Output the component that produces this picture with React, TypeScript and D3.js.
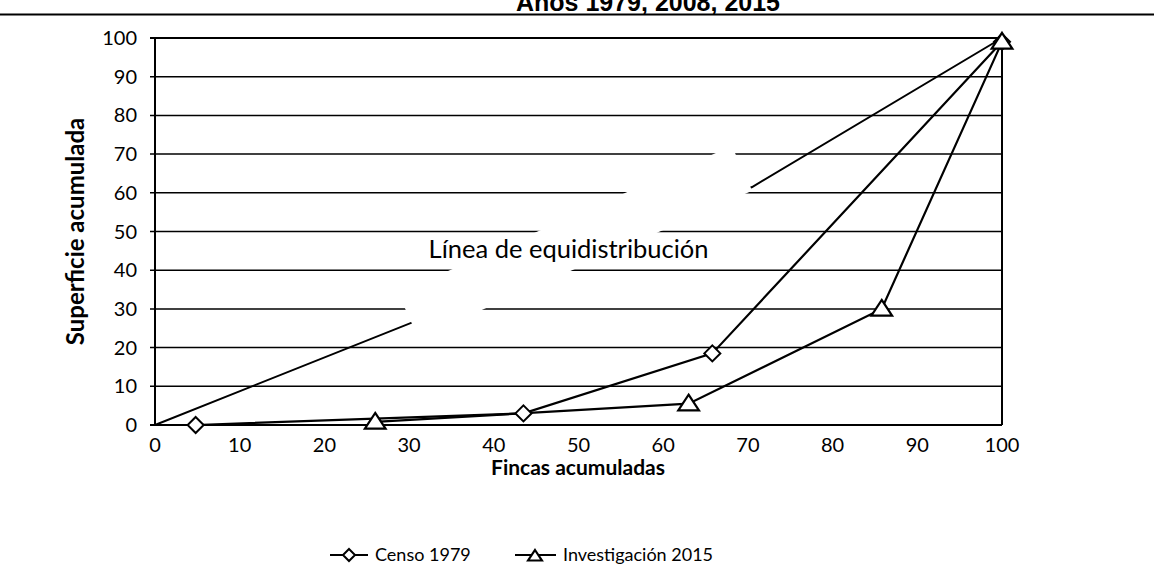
import React from "react";
import * as d3 from "d3";

const W = 1154;
const H = 582;

const xTicks = [0, 10, 20, 30, 40, 50, 60, 70, 80, 90, 100];
const yTicks = [0, 10, 20, 30, 40, 50, 60, 70, 80, 90, 100];

const censoX = [4.8, 43.5, 65.8, 100];
const censoY = [0, 3, 18.5, 99];
const invX = [26, 63, 85.8, 100];
const invY = [0.8, 5.5, 30, 99];

// equidistribution line (hand drawn in the original) and its white label box
const equiX = [0, 70.5, 100];
const equiY = [0, 61.5, 100];
const boxX = [28.7, 31.1, 70.5, 68.1];
const boxY = [34.1, 22.5, 60.5, 72.1];

const titleText = "Años 1979, 2008, 2015";
const yTitle = "Superficie acumulada";
const xTitle = "Fincas acumuladas";
const equiLabel = "Línea de equidistribución";
const seriesNames = ["Censo 1979", "Investigación 2015"];

const FONT = "Lato, 'Open Sans', sans-serif";

function Diamond({ cx, cy, r }: { cx: number; cy: number; r: number }) {
  return (
    <path
      d={`M${cx},${cy - r}L${cx + r},${cy}L${cx},${cy + r}L${cx - r},${cy}Z`}
      fill="#fff"
      stroke="#000"
      strokeWidth={2}
    />
  );
}

function Triangle({ cx, cy, r }: { cx: number; cy: number; r: number }) {
  return (
    <path
      d={`M${cx},${cy - r}L${cx + r * 1.15},${cy + r * 0.75}L${cx - r * 1.15},${cy + r * 0.75}Z`}
      fill="#fff"
      stroke="#000"
      strokeWidth={2.2}
    />
  );
}

export default function App() {
  const left = 155;
  const right = 1002;
  const top = 38;
  const bottom = 425;
  const x = d3.scaleLinear().domain([0, 100]).range([left, right]);
  const y = d3.scaleLinear().domain([0, 100]).range([bottom, top]);

  const line = d3
    .line<[number, number]>()
    .x((d) => x(d[0]))
    .y((d) => y(d[1]));

  const censo = censoX.map((v, i) => [v, censoY[i]] as [number, number]);
  const inv = invX.map((v, i) => [v, invY[i]] as [number, number]);
  const equi = equiX.map((v, i) => [v, equiY[i]] as [number, number]);
  const box = boxX.map((v, i) => [v, boxY[i]] as [number, number]);

  return (
    <svg
      width={W}
      height={H}
      style={{ position: "absolute", left: 0, top: 0, background: "#fff" }}
    >
      <rect x={0} y={0} width={W} height={H} fill="#fff" />
      {/* title, cut at top */}
      <text
        x={648}
        y={11}
        textAnchor="middle"
        fontFamily="Arial, 'Liberation Sans', sans-serif"
        fontWeight="bold"
        fontSize={25}
        fill="#000"
      >
        {titleText}
      </text>
      <line x1={0} x2={W} y1={14.5} y2={14.5} stroke="#000" strokeWidth={2.2} />

      {/* gridlines */}
      {yTicks.map((t) => (
        <line
          key={"g" + t}
          x1={left - 5}
          x2={right}
          y1={y(t)}
          y2={y(t)}
          stroke="#000"
          strokeWidth={t === 0 || t === 100 ? 2 : 1.5}
        />
      ))}
      <line x1={left} x2={left} y1={top} y2={bottom} stroke="#000" strokeWidth={2} />
      <line x1={right} x2={right} y1={top} y2={bottom} stroke="#000" strokeWidth={2} />

      {/* equidistribution line */}
      <path d={line(equi) || ""} fill="none" stroke="#000" strokeWidth={2} />
      <path d={(line(box) || "") + "Z"} fill="#fff" stroke="none" />
      <text
        x={x(32.3)}
        y={y(43.2)}
        fontFamily={FONT}
        fontSize={25.5}
        fill="#000"
      >
        {equiLabel}
      </text>

      {/* series */}
      <path d={line(inv) || ""} fill="none" stroke="#000" strokeWidth={2.2} />
      <path d={line(censo) || ""} fill="none" stroke="#000" strokeWidth={2.2} />
      {censo.map((d, i) => (
        <Diamond key={"c" + i} cx={x(d[0])} cy={y(d[1])} r={8} />
      ))}
      {inv.map((d, i) => (
        <Triangle key={"t" + i} cx={x(d[0])} cy={y(d[1])} r={9} />
      ))}

      {/* y tick labels */}
      {yTicks.map((t) => (
        <text
          key={"yl" + t}
          x={left - 18}
          y={y(t)}
          dy="0.35em"
          textAnchor="end"
          fontFamily={FONT}
          fontSize={20}
          fill="#000"
        >
          {t}
        </text>
      ))}
      {/* x tick labels */}
      {xTicks.map((t) => (
        <text
          key={"xl" + t}
          x={x(t)}
          y={445}
          dy="0.35em"
          textAnchor="middle"
          fontFamily={FONT}
          fontSize={20}
          fill="#000"
        >
          {t}
        </text>
      ))}

      <text
        x={578}
        y={468}
        dy="0.35em"
        textAnchor="middle"
        fontFamily={FONT}
        fontWeight="bold"
        fontSize={21}
        fill="#000"
      >
        {xTitle}
      </text>
      <text
        transform={`translate(76,${(top + bottom) / 2}) rotate(-90)`}
        textAnchor="middle"
        dy="0.35em"
        fontFamily={FONT}
        fontWeight="bold"
        fontSize={24}
        fill="#000"
      >
        {yTitle}
      </text>

      {/* legend */}
      <g>
        <line x1={330} x2={368} y1={555} y2={555} stroke="#000" strokeWidth={2} />
        <Diamond cx={349} cy={555} r={6} />
        <text x={375} y={555} dy="0.35em" fontFamily={FONT} fontSize={18} fill="#000">
          {seriesNames[0]}
        </text>
        <line x1={515} x2={556} y1={555} y2={555} stroke="#000" strokeWidth={2} />
        <Triangle cx={535} cy={556} r={6} />
        <text x={563} y={555} dy="0.35em" fontFamily={FONT} fontSize={18} fill="#000">
          {seriesNames[1]}
        </text>
      </g>
    </svg>
  );
}
